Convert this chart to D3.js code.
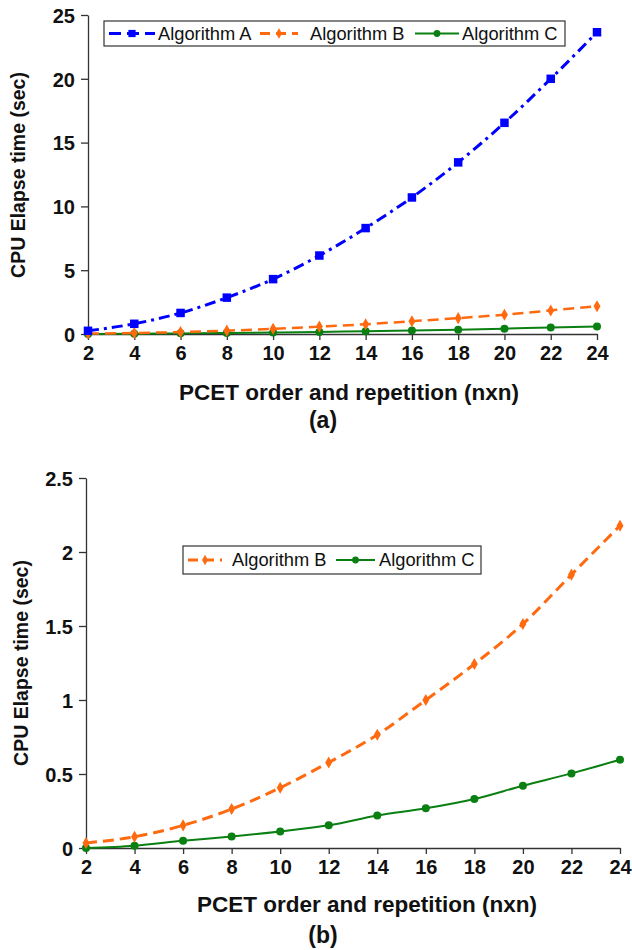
<!DOCTYPE html>
<html>
<head>
<meta charset="utf-8">
<script src="https://cdn.jsdelivr.net/npm/d3@7"></script>
<style>
  body { margin: 0; background: #fff; }
  svg { display: block; font-family: "Liberation Sans", Arial, sans-serif; }
  .axis path, .axis line { stroke: #333; stroke-width: 1.3; }
  .title { font-weight: bold; font-size: 22.5px; fill: #111; }
  .ytitle { font-weight: bold; font-size: 19.5px; fill: #111; }
  .legend text { font-size: 18.3px; fill: #111; }
</style>
</head>
<body>
<svg width="632" height="950"></svg>
<script>
// Data
let orders = [2, 4, 6, 8, 10, 12, 14, 16, 18, 20, 22, 24]
let algA = [0.25, 0.8, 1.65, 2.85, 4.3, 6.15, 8.3, 10.7, 13.45, 16.55, 20.0, 23.65]
let algB = [0.034, 0.076, 0.153, 0.263, 0.407, 0.578, 0.765, 1.0, 1.243, 1.514, 1.847, 2.178]
let algC = [0.0, 0.016, 0.049, 0.078, 0.112, 0.153, 0.22, 0.268, 0.331, 0.421, 0.504, 0.597]
let yTicksA = [0, 5, 10, 15, 20, 25]
let yTicksB = [0, 0.5, 1, 1.5, 2, 2.5]

let xTitle = 'PCET order and repetition (nxn)'
let yTitle = 'CPU Elapse time (sec)'

let styles = {
  A: { name: 'Algorithm A', color: '#0000ff', dash: '11,5,3,5', width: 3, marker: 'square' },
  B: { name: 'Algorithm B', color: '#ff6a10', dash: '11,6', width: 3, marker: 'diamond' },
  C: { name: 'Algorithm C', color: '#0a7f12', dash: null, width: 2, marker: 'circle' }
}

let svg = d3.select('svg')

function styleAxis(sel) {
  sel.attr('font-family', '"Liberation Sans", Arial, sans-serif')
    .attr('font-size', 20)
    .attr('font-weight', 'bold')
  sel.selectAll('.tick text').attr('fill', '#111')
}

function drawPanel(cfg) {
  let x = d3.scaleLinear().domain([2, 24]).range([cfg.left, cfg.right])
  let y = d3.scaleLinear().domain([0, cfg.yMax]).range([cfg.bottom, cfg.top])
  let g = svg.append('g')

  // Axes
  g.append('g')
    .attr('class', 'axis')
    .attr('transform', `translate(0,${cfg.bottom})`)
    .call(d3.axisBottom(x).tickValues(orders).tickSize(6).tickSizeOuter(0).tickPadding(6))
    .call(styleAxis)
  g.append('g')
    .attr('class', 'axis')
    .attr('transform', `translate(${cfg.left},0)`)
    .call(d3.axisLeft(y).tickValues(cfg.yTicks).tickFormat(d3.format('~g'))
      .tickSize(7).tickSizeOuter(0).tickPadding(6))
    .call(styleAxis)
    .selectAll('.tick text').attr('dy', '0.36em')

  // Series
  cfg.series.forEach(s => {
    let st = styles[s.key]
    let pts = orders.map((o, i) => [o, s.values[i]])
    let line = d3.line().x(d => x(d[0])).y(d => y(d[1])).curve(d3.curveMonotoneX)
    g.append('path')
      .datum(pts)
      .attr('d', line)
      .attr('fill', 'none')
      .attr('stroke', st.color)
      .attr('stroke-width', s.width || st.width)
      .attr('stroke-dasharray', st.dash)
    pts.forEach(p => drawMarker(g, st, x(p[0]), y(p[1])))
  })

  // Axis titles
  svg.append('text')
    .attr('class', 'title')
    .attr('text-anchor', 'middle')
    .attr('x', cfg.xTitleX)
    .attr('y', cfg.xTitleY)
    .text(xTitle)
  svg.append('text')
    .attr('class', 'title')
    .attr('text-anchor', 'middle')
    .attr('x', cfg.labelX)
    .attr('y', cfg.labelY)
    .style('font-size', '23px')
    .text(cfg.label)
  svg.append('text')
    .attr('class', 'ytitle')
    .attr('text-anchor', 'middle')
    .attr('transform', `translate(${cfg.yTitleX},${cfg.yTitleY}) rotate(-90)`)
    .text(yTitle)

  // Legend
  let lg = svg.append('g').attr('class', 'legend')
  lg.append('rect')
    .attr('x', cfg.legend.x).attr('y', cfg.legend.y)
    .attr('width', cfg.legend.w).attr('height', cfg.legend.h)
    .attr('fill', '#fff').attr('stroke', '#333').attr('stroke-width', 1.2)
  let cy = cfg.legend.y + cfg.legend.h / 2
  cfg.legend.items.forEach(it => {
    let st = styles[it.key]
    lg.append('line')
      .attr('x1', it.x0).attr('x2', it.x1)
      .attr('y1', cy).attr('y2', cy)
      .attr('stroke', st.color)
      .attr('stroke-width', st.width)
      .attr('stroke-dasharray', it.key === 'A' ? '12,6' : (it.key === 'B' ? '10,6' : null))
    drawMarker(lg, st, (it.x0 + it.x1) / 2, cy, 0.85)
    lg.append('text')
      .attr('x', it.tx).attr('y', cy)
      .attr('dy', '0.35em')
      .text(st.name)
  })
}

function drawMarker(g, st, cx, cy, k = 1) {
  if (st.marker === 'square') {
    let s = 8.5 * k
    g.append('rect').attr('x', cx - s / 2).attr('y', cy - s / 2)
      .attr('width', s).attr('height', s).attr('fill', st.color)
  } else if (st.marker === 'diamond') {
    g.append('path')
      .attr('d', d3.symbol(d3.symbolDiamond, 42 * k * k)())
      .attr('transform', `translate(${cx},${cy})`)
      .attr('fill', st.color)
  } else {
    g.append('circle').attr('cx', cx).attr('cy', cy)
      .attr('r', 4 * k).attr('fill', st.color)
  }
}

// Panel (a)
drawPanel({
  left: 88, right: 597, top: 15, bottom: 334, yMax: 25, yTicks: yTicksA,
  series: [
    { key: 'C', values: algC },
    { key: 'B', values: algB, width: 2.5 },
    { key: 'A', values: algA }
  ],
  xTitleX: 349, xTitleY: 400, label: '(a)', labelX: 323, labelY: 428,
  yTitleX: 25, yTitleY: 175,
  legend: {
    x: 104, y: 21, w: 461, h: 25,
    items: [
      { key: 'A', x0: 109, x1: 155, tx: 158 },
      { key: 'B', x0: 260, x1: 298, tx: 310 },
      { key: 'C', x0: 415, x1: 459, tx: 462 }
    ]
  }
})

// Panel (b)
drawPanel({
  left: 86, right: 620, top: 478, bottom: 848, yMax: 2.5, yTicks: yTicksB,
  series: [
    { key: 'C', values: algC },
    { key: 'B', values: algB }
  ],
  xTitleX: 367, xTitleY: 912, label: '(b)', labelX: 323, labelY: 943,
  yTitleX: 28, yTitleY: 663,
  legend: {
    x: 183, y: 546, w: 298, h: 28,
    items: [
      { key: 'B', x0: 188, x1: 222, tx: 232 },
      { key: 'C', x0: 336, x1: 375, tx: 379 }
    ]
  }
})
</script>
</body>
</html>
